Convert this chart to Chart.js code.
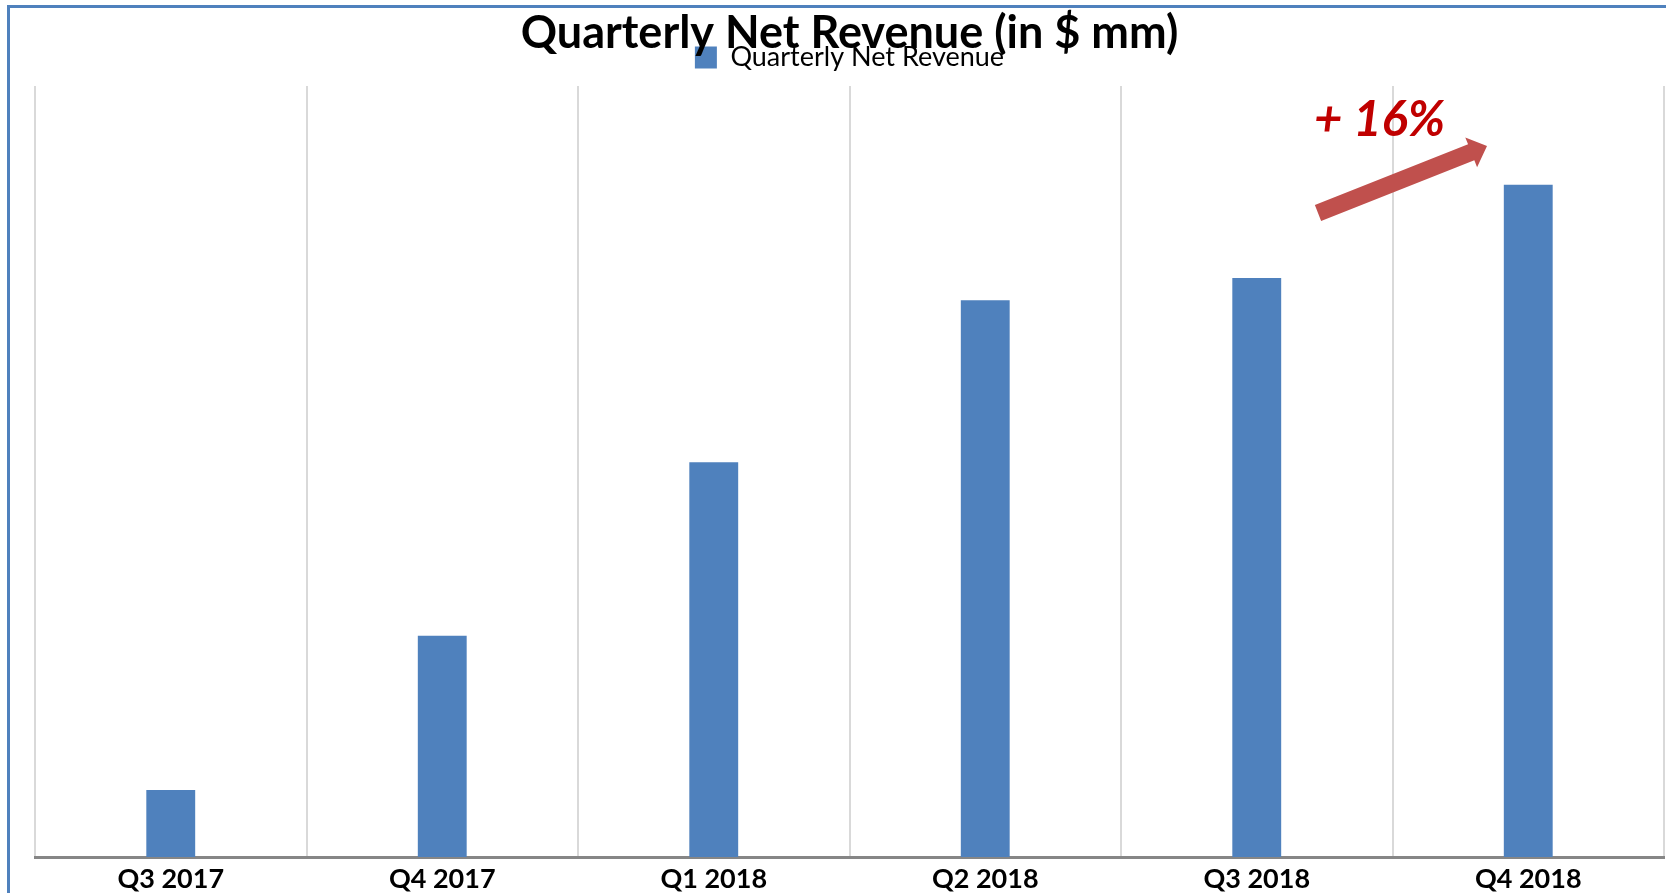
<!DOCTYPE html>
<html><head><meta charset="utf-8">
<script src="https://cdn.jsdelivr.net/npm/chart.js@4.4.1/dist/chart.umd.min.js"></script>
<style>html,body{margin:0;padding:0;background:#fff;overflow:hidden}#wrap{width:1666px;height:893px;position:relative}</style>
</head><body><div id="wrap"><canvas id="c" width="1666" height="893"></canvas></div>
<script>
const categories = ['Q3 2017', 'Q4 2017', 'Q1 2018', 'Q2 2018', 'Q3 2018', 'Q4 2018'];
const revenue = [8.7, 28.7, 51.2, 72.2, 75.1, 87.2];
const seriesName = 'Quarterly Net Revenue';
const chartTitle = 'Quarterly Net Revenue (in $ mm)';
const growthLabel = '+ 16%';
const yMax = 100;

const decorPlugin = {
  id: 'decor',
  afterInit(chart) {
    const lg = chart.legend;
    if (lg) {
      const origFit = lg.fit;
      lg.fit = function () { origFit.call(this); this.height += 5; };
    }
  },
  beforeDraw(chart) {
    const ctx = chart.ctx;
    ctx.save();
    ctx.fillStyle = '#ffffff';
    ctx.fillRect(0, 0, chart.width, chart.height);
    ctx.fillStyle = '#4F81BD';
    ctx.fillRect(7, 5, chart.width - 7, 3);
    ctx.fillRect(7, 5, 3, chart.height - 5);
    ctx.restore();
  },
  afterDraw(chart) {
    const ctx = chart.ctx;
    const a = chart.chartArea;
    ctx.save();
    ctx.fillStyle = '#C00000';
    ctx.font = 'italic bold 49px Lato';
    ctx.textBaseline = 'alphabetic';
    ctx.textAlign = 'left';
    ctx.fillText(growthLabel, a.left + 1279, 136);
    const tail = {x: a.left + 1283, y: 213};
    const tip = {x: a.left + 1452, y: 146};
    const dx = tip.x - tail.x, dy = tip.y - tail.y;
    const len = Math.hypot(dx, dy);
    const ux = dx / len, uy = dy / len;
    const nx = -uy, ny = ux;
    const sw = 8.5, hw = 16, hl = 17;
    const bx = tip.x - ux * hl, by = tip.y - uy * hl;
    ctx.fillStyle = '#C0504D';
    ctx.beginPath();
    ctx.moveTo(tail.x + nx * sw, tail.y + ny * sw);
    ctx.lineTo(bx + nx * sw, by + ny * sw);
    ctx.lineTo(bx + nx * hw, by + ny * hw);
    ctx.lineTo(tip.x, tip.y);
    ctx.lineTo(bx - nx * hw, by - ny * hw);
    ctx.lineTo(bx - nx * sw, by - ny * sw);
    ctx.lineTo(tail.x - nx * sw, tail.y - ny * sw);
    ctx.closePath();
    ctx.fill();
    ctx.restore();
  }
};

new Chart(document.getElementById('c'), {
  type: 'bar',
  data: {
    labels: categories,
    datasets: [{
      label: seriesName,
      data: revenue,
      backgroundColor: '#4F81BD',
      borderWidth: 0,
      barPercentage: 0.9,
      categoryPercentage: 0.2
    }]
  },
  options: {
    responsive: false,
    animation: false,
    layout: {padding: {left: 35, right: 2, top: 0, bottom: 0}},
    plugins: {
      title: {
        display: true,
        text: chartTitle,
        color: '#000000',
        font: {family: 'Lato', weight: 'bold', size: 45},
        padding: {top: 6, bottom: -26}
      },
      legend: {
        display: true,
        position: 'top',
        labels: {
          color: '#000000',
          font: {family: 'Lato', size: 27},
          boxWidth: 22,
          boxHeight: 22,
          padding: 10
        }
      },
      tooltip: {enabled: false}
    },
    scales: {
      x: {
        afterFit(scale) { scale.height = 36; },
        grid: {display: true, color: '#D9D9D9', lineWidth: 2, offset: true, drawTicks: false},
        border: {display: true, color: '#868686', width: 3},
        ticks: {color: '#000000', font: {family: 'Lato', weight: 'bold', size: 27, lineHeight: 1}, padding: 8.5, maxRotation: 0}
      },
      y: {
        display: false,
        min: 0,
        max: yMax
      }
    }
  },
  plugins: [decorPlugin]
});
</script>
</body></html>
